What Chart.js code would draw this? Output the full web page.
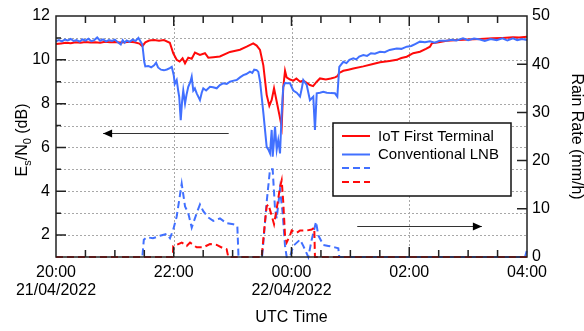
<!DOCTYPE html>
<html><head><meta charset="utf-8">
<script src="https://cdn.jsdelivr.net/npm/chart.js@4.4.1/dist/chart.umd.min.js"></script>
<style>html,body{margin:0;padding:0;background:#fff}#c{display:block}</style>
</head><body>
<canvas id="c" width="584" height="331"></canvas>
<script>
// time in minutes after 20:00 UTC (21/04/2022)
const iotTime = [
0,5,10,15,20,25,30,35,40,45,
50,55,60,65,70,75,80,85,88,91,
95,100,105,110,116,119.5,123,126,129,131.5,
134.8,138.3,141.6,146.7,151.8,155.2,160.3,167,177.3,187.5,
194.3,201,204.5,207.9,211.3,214.7,217.4,219.8,222.2,224.9,
227.6,230,231.6,233.4,235,238.5,242,245,248.7,252,
255.5,258.8,262,265.7,269,275,280,284.3,286.7,288.7,
292.8,298,303,313.2,322,330.2,340,347.2,352,357.4,
364,370.9,377,381.1,383,390,398.1,410,420,432.1,
445,455,465.7,472,480];
const iotEsN0 = [
10.72,10.75,10.78,10.76,10.8,10.78,10.81,10.79,10.8,10.78,
10.82,10.8,10.81,10.79,10.8,10.82,10.8,10.74,10.62,10.8,
10.88,10.9,10.87,10.9,10.78,10.3,10.0,9.92,10.07,9.84,
10.1,10.05,10.33,10.22,10.3,10.1,10.12,10.15,10.36,10.46,
10.6,10.75,10.65,10.45,9.75,8.4,7.9,8.17,8.7,8.1,
7.5,6.95,8.75,9.5,9.2,9.1,9.05,9.15,9.0,9.05,
8.95,8.85,8.8,9.0,9.15,9.1,9.15,9.2,9.25,9.4,
9.5,9.55,9.6,9.7,9.8,9.89,9.95,10.0,10.08,10.14,
10.3,10.37,10.5,10.6,10.75,10.8,10.87,10.9,10.93,10.95,
10.98,11.0,11.03,11.02,11.05];

const lnbTime = [
0,3,6,9,12,15,18,21,24,27,
30,33,36,39,42,45,48,51,54,57,
60,63,66,68,70,72,75,78,81,84,
86,88,90,91,94,97,100,102,104,107,
110,113,116,118,120,121,123,124.5,125.6,127.1,
128.5,129.7,131.5,133,134.8,137,138.3,139.9,141.5,143.4,
146.7,148.5,150.1,153,156.9,160,163.8,167,170.2,174,
177.3,181,184.1,187.5,190.9,194,197.7,200,202,204.5,
206.2,208,209.6,211.5,213,214.7,216.5,218.1,219.8,220.8,
222,223.2,224.9,226.5,228.3,230,231.6,233.5,235.1,238.5,
241.8,245.3,248.7,250.5,252,255.5,258.8,262.2,263.9,265.7,
269,272.4,276,280,284.3,286.7,288.7,292.8,296,299,
303,306,309,313.2,317,321,325,330.2,335,340,
347.2,352,357.4,362,366,370.9,376,381.1,386,391,
398.1,403,408,414.8,420,426,432.1,437,443,449.1,
455,460,465.7,470,475,480];
const lnbEsN0 = [
10.85,10.9,10.84,10.92,10.88,10.95,10.86,10.9,10.83,10.93,
10.88,10.96,10.85,10.9,11.02,10.87,10.93,10.84,10.9,10.86,
10.92,10.8,10.7,10.9,10.78,10.88,10.82,10.92,10.86,11.0,
10.85,10.7,9.9,9.7,9.72,9.66,9.75,9.87,9.65,9.55,
9.52,9.56,9.62,9.68,9.3,8.9,9.08,8.6,8.3,7.25,
8.1,8.6,8.0,8.4,8.77,9.0,9.23,8.6,8.7,8.47,
8.16,8.5,8.7,8.6,8.77,8.75,8.7,8.85,8.93,8.9,
9.0,9.05,9.08,9.2,9.3,9.35,9.46,9.4,9.55,9.53,
9.45,9.0,8.32,7.5,6.8,6.03,5.9,5.73,6.8,5.58,
6.2,6.95,5.9,6.34,5.73,7.56,8.77,8.95,8.93,8.93,
8.6,8.5,8.32,8.7,9.08,8.85,8.16,8.32,6.8,8.47,
8.5,8.54,8.5,8.48,8.47,8.32,9.68,9.91,9.85,10.0,
10.07,10.02,10.15,10.22,10.18,10.3,10.28,10.37,10.35,10.45,
10.52,10.5,10.6,10.63,10.72,10.83,10.8,10.85,10.78,10.87,
10.87,10.92,10.88,10.98,10.9,10.97,10.93,10.86,10.95,10.9,
10.98,10.88,10.98,10.9,10.95,10.9];

// rain rate (mm/h), right axis
const lnbRainTime = [
0,88,89.5,92.4,98.8,106,112.8,116.2,119.5,123,
128.1,131.5,134.8,138.3,143.4,146.7,150.1,155.2,160.3,167.1,
173.9,180.7,184.8,186,210,211.3,214.7,218.1,220.8,223.2,
224.9,228.3,231,233.4,235.1,238.5,241.8,248.7,252,257.1,
260.6,265,267.3,272.4,277.5,284.3,287.7,288.7,478,480];
const lnbRain = [
0,0,3.6,4.1,3.9,4.4,4.8,3.9,5.7,8.4,
15.2,10.5,9.1,6.1,9.1,10.9,9.5,8.2,7.5,8.0,
7.0,6.8,6.4,0,0,3,11.4,18.2,18.2,10,
8,14.1,9.1,2.3,0,0,2.3,3.6,2.3,0,
3.6,7.3,4.5,2.5,2.3,2.0,1.8,0,0,1.5];

const iotRainTime = [
0,119,119.5,123,128.1,133.2,136.6,143.4,150.1,156.9,
163.8,170.5,173.9,175.6,209.6,213,214.7,216.4,219.8,222.2,
224.9,228.3,230,231.6,233.4,235.1,238.5,240.2,245.3,248.7,
255.5,260.6,263.2,263.9,480];
const iotRain = [
0,0,2.3,2.5,3.0,2.3,3.0,2.0,2.0,2.7,
2.5,1.8,1.6,0,0,7.3,10.5,10.9,8.6,6.8,
10,14.5,15.9,11.4,4.5,3.0,4.5,5.5,5.0,5.5,
5.5,5.7,6.1,0,0];

const timeTicks = [0,120,240,360,480];
const timeTickLabels = [['20:00','21/04/2022'],['22:00'],['00:00','22/04/2022'],['02:00'],['04:00']];
const esn0TickLabels = ['2','4','6','8','10','12'];
const seriesNames = ['IoT First Terminal','Conventional LNB','',''];

const RED = '#ff0a0a', BLUE = '#4170ff';
const FONT = "'Liberation Sans', Arial, sans-serif";
Chart.defaults.font.family = FONT;
Chart.defaults.color = '#000';

const pts = (t, v) => t.map((x, i) => ({x, y: v[i]}));

const decor = {
  id: 'decor',
  beforeDatasetsDraw(chart) {
    const {ctx, chartArea: {left, right, top, bottom}} = chart;
    const xs = chart.scales.x, yl = chart.scales.y;
    ctx.save();
    ctx.strokeStyle = '#a8a8a8'; ctx.lineWidth = 1; ctx.setLineDash([2, 2]);
    for (let v = 2; v <= 11; v++) {
      const y = Math.round(yl.getPixelForValue(v)) + 0.5;
      ctx.beginPath(); ctx.moveTo(left, y); ctx.lineTo(right, y); ctx.stroke();
    }
    for (const t of [120, 240, 360]) {
      const x = Math.round(xs.getPixelForValue(t)) + 0.5;
      ctx.beginPath(); ctx.moveTo(x, top); ctx.lineTo(x, bottom); ctx.stroke();
    }
    ctx.restore();
  },
  afterDatasetsDraw(chart) {
    const {ctx, chartArea: {left, right, top, bottom}} = chart;
    const xs = chart.scales.x, yl = chart.scales.y, yr = chart.scales.y2;
    ctx.save();
    // frame
    ctx.strokeStyle = '#222'; ctx.lineWidth = 1.5; ctx.setLineDash([]);
    ctx.strokeRect(left, top, right - left, bottom - top);
    // ticks
    ctx.beginPath();
    for (let v = 2; v <= 11; v++) {
      const y = yl.getPixelForValue(v), L = v % 2 === 0 ? 10 : 5;
      ctx.moveTo(left, y); ctx.lineTo(left + L, y);
    }
    for (let v = 10; v <= 40; v += 10) {
      const y = yr.getPixelForValue(v);
      ctx.moveTo(right, y); ctx.lineTo(right - 10, y);
    }
    for (let t = 30; t < 480; t += 30) {
      const x = xs.getPixelForValue(t), L = t % 120 === 0 ? 10 : 7;
      ctx.moveTo(x, bottom); ctx.lineTo(x, bottom - L);
      ctx.moveTo(x, top); ctx.lineTo(x, top + L);
    }
    ctx.stroke();
    // arrows
    const arrow = (x1, x2, y) => {
      ctx.strokeStyle = '#333'; ctx.lineWidth = 1;
      ctx.beginPath(); ctx.moveTo(x1, y); ctx.lineTo(x2, y); ctx.stroke();
      const d = Math.sign(x2 - x1);
      ctx.fillStyle = '#000';
      ctx.beginPath(); ctx.moveTo(x2, y); ctx.lineTo(x2 - d * 9, y - 4); ctx.lineTo(x2 - d * 9, y + 4); ctx.closePath(); ctx.fill();
    };
    arrow(xs.getPixelForValue(176), xs.getPixelForValue(48), Math.round(yl.getPixelForValue(6.66)) + 0.5);
    arrow(xs.getPixelForValue(307), xs.getPixelForValue(434), Math.round(yr.getPixelForValue(6.5)) + 0.5);
    // legend
    const lx = 333, ly = 123, lw = 178, lh = 73;
    ctx.fillStyle = '#fff'; ctx.fillRect(lx, ly, lw, lh);
    ctx.strokeStyle = '#111'; ctx.lineWidth = 1.5; ctx.strokeRect(lx, ly, lw, lh);
    const rows = [136, 154.5, 168, 182];
    ctx.font = '15px ' + FONT; ctx.textBaseline = 'middle'; ctx.textAlign = 'left';
    [0, 1, 2, 3].forEach((di, r) => {
      const ds = chart.data.datasets[di];
      ctx.strokeStyle = ds.borderColor; ctx.lineWidth = 2;
      ctx.setLineDash(ds.borderDash || []);
      ctx.beginPath(); ctx.moveTo(342, rows[r]); ctx.lineTo(370, rows[r]); ctx.stroke();
      ctx.setLineDash([]);
      ctx.fillStyle = '#000';
      if (ds.label) ctx.fillText(ds.label, 378, rows[r] + 0.5);
    });
    // titles
    ctx.fillStyle = '#000';
    ctx.textAlign = 'center'; ctx.textBaseline = 'middle';
    ctx.font = '16px ' + FONT;
    ctx.fillText('UTC Time', (left + right) / 2, 318);
    ctx.save();
    ctx.translate(571.5, (top + bottom) / 2);
    ctx.rotate(Math.PI / 2);
    ctx.textBaseline = 'alphabetic';
    ctx.fillText('Rain Rate (mm/h)', 0, 0);
    ctx.restore();
    const parts = [['E', 16, 0], ['s', 11, 4], ['/N', 16, 0], ['0', 11, 4], [' (dB)', 16, 0]];
    let total = 0;
    parts.forEach(p => { ctx.font = p[1] + 'px ' + FONT; p.push(ctx.measureText(p[0]).width); total += p[3]; });
    ctx.save();
    ctx.translate(26.5, 140);
    ctx.rotate(-Math.PI / 2);
    ctx.textAlign = 'left'; ctx.textBaseline = 'alphabetic';
    let cx = -total / 2;
    parts.forEach(p => { ctx.font = p[1] + 'px ' + FONT; ctx.fillText(p[0], cx, p[2]); cx += p[3]; });
    ctx.restore();
    ctx.restore();
  }
};

new Chart(document.getElementById('c'), {
  type: 'line',
  data: {
    datasets: [
      {label: seriesNames[0], data: pts(iotTime, iotEsN0), borderColor: RED, borderWidth: 2, yAxisID: 'y', order: 2},
      {label: seriesNames[1], data: pts(lnbTime, lnbEsN0), borderColor: BLUE, borderWidth: 2, yAxisID: 'y', order: 1},
      {label: seriesNames[2], data: pts(lnbRainTime, lnbRain), borderColor: BLUE, borderWidth: 2, borderDash: [7, 4], yAxisID: 'y2', order: 4, clip: 4},
      {label: seriesNames[3], data: pts(iotRainTime, iotRain), borderColor: RED, borderWidth: 2, borderDash: [7, 4], yAxisID: 'y2', order: 3, clip: 4}
    ]
  },
  options: {
    responsive: false,
    animation: false,
    devicePixelRatio: 1,
    layout: {padding: {top: 16, left: 0, right: 0, bottom: 0}},
    elements: {point: {radius: 0}, line: {tension: 0, fill: false}},
    plugins: {legend: {display: false}, tooltip: {enabled: false}},
    scales: {
      x: {
        type: 'linear', position: 'bottom', min: 0, max: 480,
        grid: {display: false, drawTicks: false}, border: {display: false},
        ticks: {stepSize: 120, autoSkip: false, maxRotation: 0, padding: 7,
          font: {size: 16, lineHeight: 1.1},
          callback: v => { const i = timeTicks.indexOf(v); return i < 0 ? '' : timeTickLabels[i]; }},
        afterFit: s => { s.height = 74; }
      },
      y: {
        type: 'linear', position: 'left', min: 1, max: 12,
        grid: {display: false, drawTicks: false}, border: {display: false},
        ticks: {stepSize: 1, autoSkip: false, padding: 6, font: {size: 16},
          callback: v => (esn0TickLabels.includes(String(v)) ? String(v) : '')},
        afterFit: s => { s.width = 56; }
      },
      y2: {
        type: 'linear', position: 'right', min: 0, max: 50,
        grid: {display: false, drawTicks: false}, border: {display: false},
        ticks: {stepSize: 10, autoSkip: false, padding: 5, font: {size: 16}},
        afterFit: s => { s.width = 57; }
      }
    }
  },
  plugins: [decor]
});
</script>
</body></html>
